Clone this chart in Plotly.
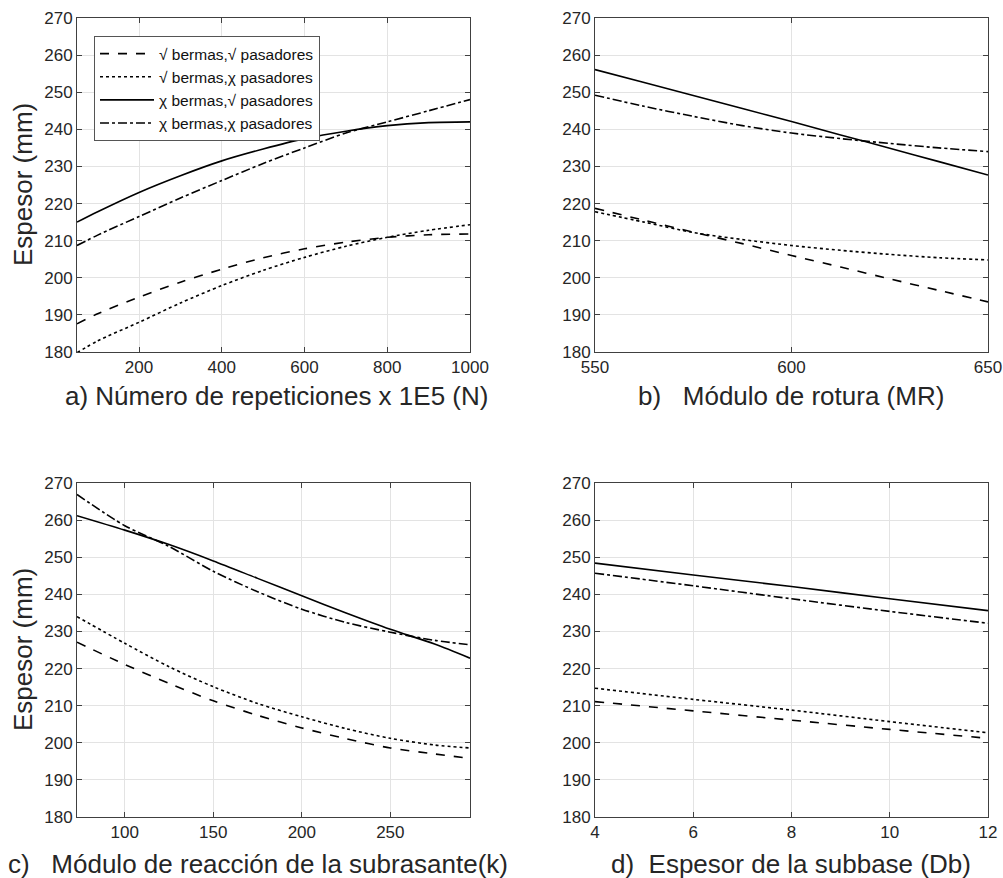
import plotly.graph_objects as go

# ---------------- data ----------------
names = ["\u221a bermas,\u221a pasadores", "\u221a bermas,\u03c7 pasadores",
         "\u03c7 bermas,\u221a pasadores", "\u03c7 bermas,\u03c7 pasadores"]
dashes = ["dash", "dot", "solid", "dashdot"]

# a) Número de repeticiones
a_x = [50, 100, 200, 300, 400, 500, 600, 700, 800, 900, 1000]
a_ss = [187.6, 190.3, 194.8, 198.8, 202.3, 205.4, 207.8, 209.6, 210.9, 211.6, 211.8]
a_sx = [179.8, 183.0, 188.0, 193.2, 197.9, 202.0, 205.5, 208.5, 210.9, 212.8, 214.3]
a_xs = [215.0, 217.8, 223.0, 227.5, 231.5, 234.7, 237.5, 239.5, 241.0, 241.8, 242.0]
a_xx = [208.7, 211.5, 216.5, 221.5, 226.2, 230.8, 235.0, 239.0, 242.0, 245.0, 248.0]

# b) Módulo de rotura
b_x = [550, 562.5, 575, 587.5, 600, 612.5, 625, 637.5, 650]
b_ss = [218.7, 215.5, 212.3, 209.2, 206.0, 202.9, 199.7, 196.6, 193.5]
b_sx = [217.8, 215.0, 212.2, 210.3, 208.7, 207.4, 206.3, 205.4, 204.8]
b_xs = [256.1, 252.6, 249.1, 245.6, 242.1, 238.5, 234.9, 231.3, 227.7]
b_xx = [249.2, 246.2, 243.5, 241.0, 239.0, 237.5, 236.2, 235.0, 234.0]

# c) Módulo de reacción de la subrasante
c_x = [73, 100, 125, 150, 175, 200, 225, 250, 275, 295]
c_ss = [227.1, 221.1, 216.0, 211.3, 207.4, 204.0, 201.1, 198.6, 197.0, 195.8]
c_sx = [234.0, 226.8, 220.5, 215.1, 210.6, 207.0, 203.8, 201.2, 199.4, 198.6]
c_xs = [261.2, 257.3, 253.4, 249.0, 244.3, 239.6, 235.0, 230.6, 226.6, 222.8]
c_xx = [266.9, 258.5, 252.9, 246.2, 240.7, 236.0, 232.4, 229.8, 227.6, 226.4]

# d) Espesor de la subbase
d_x = [4, 6, 8, 10, 12]
d_ss = [211.1, 208.6, 206.1, 203.6, 201.2]
d_sx = [214.7, 211.7, 208.8, 205.7, 202.7]
d_xs = [248.4, 245.2, 242.1, 238.8, 235.6]
d_xx = [245.7, 242.3, 238.8, 235.4, 232.2]

panels = [
    (a_x, [a_ss, a_sx, a_xs, a_xx]),
    (b_x, [b_ss, b_sx, b_xs, b_xx]),
    (c_x, [c_ss, c_sx, c_xs, c_xx]),
    (d_x, [d_ss, d_sx, d_xs, d_xx]),
]

x_ranges = [[50, 1000], [550, 650], [73, 295], [4, 12]]
x_ticks = [[200, 400, 600, 800, 1000], [550, 600, 650], [100, 150, 200, 250], [4, 6, 8, 10, 12]]
y_ticks = list(range(180, 271, 10))
x_titles = ["a) Número de repeticiones x 1E5 (N)",
            "b)\u00a0\u00a0 Módulo de rotura (MR)",
            "c)\u00a0\u00a0 Módulo de reacción de la subrasante(k)",
            "d)\u00a0 Espesor de la subbase (Db)"]

# ---------------- layout geometry ----------------
W, H = 1003, 878
FONT = "Arial, 'Liberation Sans', Helvetica, sans-serif"


def PX(x):
    return x / W


def PY(y):
    return 1 - y / H


xdoms = [[PX(77), PX(470)], [PX(595), PX(988)], [PX(77), PX(470)], [PX(595), PX(988)]]
ydoms = [[PY(352), PY(18)], [PY(352), PY(18)], [PY(817), PY(483)], [PY(817), PY(483)]]

fig = go.Figure()
for i, (xs, series) in enumerate(panels):
    ax = "" if i == 0 else str(i + 1)
    for j, ys in enumerate(series):
        fig.add_trace(go.Scatter(
            x=xs, y=ys, mode="lines", name=names[j],
            line=dict(color="black", width=1.6, dash=dashes[j], shape="spline", smoothing=0.8),
            xaxis="x" + ax, yaxis="y" + ax, showlegend=(i == 0)))

layout = dict(
    width=W, height=H, autosize=False,
    margin=dict(l=0, r=0, t=0, b=0, autoexpand=False),
    paper_bgcolor="white", plot_bgcolor="white",
    font=dict(family=FONT, color="#262626"),
    legend=dict(x=PX(94), y=PY(36), xanchor="left", yanchor="top",
                bgcolor="white", bordercolor="#555555", borderwidth=1,
                font=dict(size=15.5, family=FONT, color="#111111"),
                tracegroupgap=0, itemwidth=54),
)
axis_common = dict(showline=True, linecolor="#404040", linewidth=1, mirror="ticks",
                   ticks="inside", ticklen=5, tickcolor="#404040", automargin=False,
                   showgrid=True, gridcolor="#e3e3e3", gridwidth=1, zeroline=False,
                   tickfont=dict(size=17, family=FONT, color="#262626"))
for i in range(4):
    k = "" if i == 0 else str(i + 1)
    layout["xaxis" + k] = dict(axis_common, domain=xdoms[i], range=x_ranges[i],
                               tickvals=x_ticks[i], anchor="y" + k)
    layout["yaxis" + k] = dict(axis_common, domain=ydoms[i], range=[180, 270],
                               tickvals=y_ticks, anchor="x" + k)

annotations = []
title_centers = [276, 791, 258, 791]
title_y = [396, 396, 864, 864]
for i in range(4):
    annotations.append(dict(text=x_titles[i], xref="paper", yref="paper",
                            x=PX(title_centers[i]), y=PY(title_y[i]),
                            xanchor="center", yanchor="middle", showarrow=False,
                            font=dict(size=26, family=FONT, color="#262626")))
for yc in [185, 650]:
    annotations.append(dict(text="Espesor (mm)", xref="paper", yref="paper",
                            x=PX(23), y=PY(yc), xanchor="center", yanchor="middle",
                            textangle=-90, showarrow=False,
                            font=dict(size=26, family=FONT, color="#262626")))
layout["annotations"] = annotations

fig.update_layout(**layout)
fig.write_html("out.html", config={"displayModeBar": False},
               post_script="document.body.style.margin='0';"
                           "document.documentElement.style.overflow='hidden';")
